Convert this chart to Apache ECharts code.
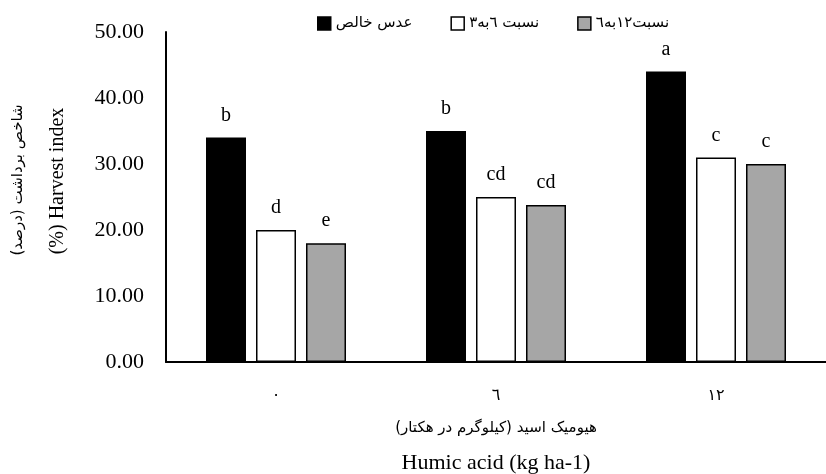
<!DOCTYPE html>
<html><head><meta charset="utf-8">
<script src="https://cdn.jsdelivr.net/npm/echarts@6/dist/echarts.min.js"></script>
<style>html,body{margin:0;padding:0;background:#fff}#c{width:826px;height:474px}</style>
</head><body><div id="c"></div>
<script>
const categories = ['٠', '٦', '١٢'];
const seriesNames = ['عدس خالص', 'نسبت ٦به٣', 'نسبت١٢به٦'];
const pureLentil = [34, 35, 44];
const ratio6to3 = [20, 25, 31];
const ratio12to6 = [18, 23.8, 30];
const lettersPure = ['b', 'b', 'a'];
const letters6to3 = ['d', 'cd', 'c'];
const letters12to6 = ['e', 'cd', 'c'];
const yTicks = [0, 10, 20, 30, 40, 50];

const serif = '"Liberation Serif","DejaVu Serif",serif';
const arab = '"DejaVu Sans","Noto Sans",sans-serif';
const chart = echarts.init(document.getElementById('c'));
function mk(name, data, letters, color, border) {
  return {
    name, type: 'bar', data, barWidth: 40, barGap: '25%',
    itemStyle: { color, borderColor: '#000', borderWidth: border },
    label: { show: true, position: 'top', distance: 12, color: '#000',
      fontFamily: serif, fontSize: 20,
      formatter: p => letters[p.dataIndex] }
  };
}
chart.setOption({
  animation: false,
  textStyle: { fontFamily: serif },
  legend: {
    top: 11, left: 312, itemWidth: 13, itemHeight: 13, itemGap: 38, icon: 'rect',
    textStyle: { fontFamily: arab, fontSize: 15, color: '#000' },
    data: seriesNames.map(n => ({ name: n, itemStyle: { borderColor: '#000', borderWidth: 1.5 } }))
  },
  grid: { left: 166, right: 0, top: 32, bottom: 112, containLabel: false },
  xAxis: {
    type: 'category', data: categories,
    axisLine: { lineStyle: { color: '#000', width: 2 } },
    axisTick: { show: false },
    axisLabel: { color: '#000', fontFamily: arab, fontSize: 16, margin: 26 }
  },
  yAxis: {
    type: 'value', min: yTicks[0], max: yTicks[yTicks.length - 1], interval: 10,
    axisLine: { show: true, lineStyle: { color: '#000', width: 2 } },
    axisTick: { show: false },
    splitLine: { show: false },
    axisLabel: { color: '#000', fontFamily: serif, fontSize: 22, margin: 22,
      formatter: v => v.toFixed(2) }
  },
  graphic: [
    { type: 'text', x: 496, y: 428, style: { text: 'هیومیک اسید (کیلوگرم در هکتار)', font: '15px ' + arab, fill: '#000', align: 'center', verticalAlign: 'middle' } },
    { type: 'text', x: 496, y: 463, style: { text: 'Humic acid (kg ha-1)', font: '22px ' + serif, fill: '#000', align: 'center', verticalAlign: 'middle' } },
    { type: 'text', x: 18, y: 180, rotation: Math.PI / 2, style: { text: 'شاخص برداشت (درصد)', font: '15px ' + arab, fill: '#000', align: 'center', verticalAlign: 'middle' } },
    { type: 'text', x: 58, y: 181, rotation: Math.PI / 2, style: { text: '(%) Harvest index', font: '20px ' + serif, fill: '#000', align: 'center', verticalAlign: 'middle' } }
  ],
  series: [
    mk(seriesNames[0], pureLentil, lettersPure, '#000', 0),
    mk(seriesNames[1], ratio6to3, letters6to3, '#fff', 1.5),
    mk(seriesNames[2], ratio12to6, letters12to6, '#a6a6a6', 1.5)
  ]
});
</script></body></html>
